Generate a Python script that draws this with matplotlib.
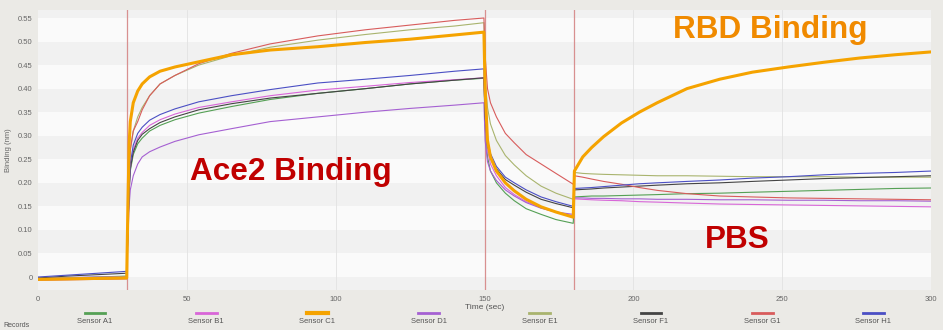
import numpy as np
import matplotlib.pyplot as plt
from matplotlib.lines import Line2D

# tempo (s) comum a todos os sensores
t = [0, 10, 20, 29.8, 30.2, 30.6, 31, 32, 33.5, 35, 37.5, 41, 46, 54, 65, 78, 94, 110, 125, 140,
     149.8, 150.2, 151, 152, 154, 157, 160, 164, 169, 174, 179.8, 180.2, 183, 186, 190, 196, 202,
     208, 218, 229, 240, 252, 264, 276, 288, 300]

sensor_a1 = [-0.004, -0.002, 0.0, 0.002, 0.1, 0.18, 0.225, 0.26, 0.283, 0.295, 0.31, 0.322, 0.334, 0.348,
             0.362, 0.377, 0.39, 0.4, 0.41, 0.418, 0.422, 0.32, 0.255, 0.225, 0.2, 0.178, 0.162, 0.145,
             0.133, 0.122, 0.114, 0.17, 0.171, 0.172, 0.172, 0.173, 0.174, 0.175, 0.177, 0.178, 0.18,
             0.182, 0.184, 0.186, 0.188, 0.189]
sensor_b1 = [-0.005, -0.003, -0.002, 0.0, 0.1, 0.18, 0.23, 0.27, 0.295, 0.307, 0.322, 0.334, 0.346, 0.36,
             0.372, 0.385, 0.397, 0.405, 0.413, 0.419, 0.423, 0.33, 0.27, 0.24, 0.215, 0.19, 0.175, 0.16,
             0.147, 0.138, 0.13, 0.166, 0.165, 0.164, 0.163, 0.162, 0.16, 0.159, 0.157, 0.155, 0.154,
             0.153, 0.152, 0.151, 0.15, 0.149]
sensor_c1 = [-0.005, -0.004, -0.003, -0.002, 0.15, 0.28, 0.33, 0.37, 0.395, 0.41, 0.425, 0.437, 0.446, 0.457,
             0.472, 0.482, 0.489, 0.498, 0.505, 0.514, 0.52, 0.4, 0.29, 0.255, 0.225, 0.2, 0.183, 0.165,
             0.149, 0.138, 0.127, 0.225, 0.255, 0.275, 0.298, 0.327, 0.35, 0.37, 0.4, 0.42, 0.435,
             0.446, 0.456, 0.465, 0.472, 0.478]
sensor_d1 = [-0.003, -0.001, 0.0, 0.001, 0.08, 0.15, 0.185, 0.215, 0.24, 0.255, 0.266, 0.276, 0.288, 0.302,
             0.315, 0.33, 0.34, 0.35, 0.358, 0.365, 0.37, 0.29, 0.245, 0.225, 0.205, 0.185, 0.172, 0.158,
             0.146, 0.138, 0.133, 0.168, 0.168, 0.167, 0.167, 0.166, 0.166, 0.165, 0.165, 0.164, 0.164,
             0.163, 0.163, 0.162, 0.162, 0.161]
sensor_e1 = [-0.003, -0.002, -0.001, 0.0, 0.12, 0.22, 0.27, 0.31, 0.34, 0.36, 0.385, 0.41, 0.428, 0.45,
             0.47, 0.488, 0.503, 0.515, 0.525, 0.533, 0.54, 0.42, 0.36, 0.325, 0.29, 0.258, 0.238, 0.215,
             0.193, 0.178, 0.165, 0.222, 0.22, 0.219, 0.218, 0.217, 0.216, 0.215, 0.215, 0.214, 0.213,
             0.213, 0.213, 0.212, 0.212, 0.212]
sensor_f1 = [-0.002, 0.002, 0.005, 0.008, 0.1, 0.18, 0.23, 0.265, 0.29, 0.303, 0.315, 0.328, 0.34, 0.355,
             0.368, 0.38, 0.39, 0.4, 0.41, 0.418, 0.423, 0.34, 0.28, 0.255, 0.23, 0.207, 0.195, 0.18,
             0.165, 0.156, 0.147, 0.185, 0.186, 0.187, 0.189, 0.191, 0.193, 0.195, 0.198, 0.2, 0.203,
             0.206, 0.209, 0.211, 0.213, 0.215]
sensor_g1 = [-0.007, -0.006, -0.005, -0.004, 0.12, 0.22, 0.27, 0.31, 0.33, 0.355, 0.385, 0.41, 0.428, 0.453,
             0.475, 0.495, 0.512, 0.525, 0.535, 0.545, 0.55, 0.47, 0.4, 0.37, 0.34, 0.305, 0.285, 0.26,
             0.24, 0.22, 0.197, 0.215, 0.212, 0.208, 0.203, 0.197, 0.19, 0.184, 0.177, 0.172, 0.17,
             0.168, 0.167, 0.166, 0.165, 0.164]
sensor_h1 = [0.0, 0.004, 0.008, 0.012, 0.1, 0.19, 0.24, 0.28, 0.305, 0.318, 0.333, 0.345, 0.357, 0.372,
             0.385, 0.398, 0.412, 0.42, 0.428, 0.437, 0.442, 0.36, 0.29, 0.262, 0.235, 0.212, 0.2, 0.185,
             0.17, 0.16, 0.15, 0.188, 0.189, 0.19, 0.192, 0.195, 0.198, 0.2, 0.203, 0.206, 0.21,
             0.213, 0.217, 0.22, 0.222, 0.225]

nomes = ["Sensor A1", "Sensor B1", "Sensor C1", "Sensor D1",
         "Sensor E1", "Sensor F1", "Sensor G1", "Sensor H1"]
series = [sensor_a1, sensor_b1, sensor_c1, sensor_d1, sensor_e1, sensor_f1, sensor_g1, sensor_h1]
cores = ["#55a055", "#d866d8", "#f5a300", "#a560d2", "#a9b46e", "#444444", "#d85c5c", "#4b4fc4"]

# instantes das trocas de etapa
etapas = [30, 150, 180]

plt.rcParams['font.family'] = ['Liberation Sans', 'DejaVu Sans']

fig = plt.figure(figsize=(9.43, 3.30), dpi=100, facecolor="#ebeae6")
ax = fig.add_axes([0.0403, 0.1212, 0.947, 0.8485])
ax.set_facecolor("#fafafa")

# faixas alternadas do fundo
yt = np.arange(0, 0.56, 0.05)
for i, y0 in enumerate(np.arange(-0.05, 0.6, 0.05)):
    if i % 2 == 0:
        ax.axhspan(y0, y0 + 0.05, color="#f1f1f1", lw=0, zorder=0)
for x in [50, 100, 150, 200, 250]:
    ax.axvline(x, color="#e2e2e2", lw=0.6, zorder=0.5)

for x in etapas:
    ax.axvline(x, color="#d89090", lw=0.9, zorder=1)

for i, (s, c) in enumerate(zip(series, cores)):
    if nomes[i] == "Sensor C1":
        ax.plot(t, s, color=c, lw=2.2, zorder=3)
    else:
        ax.plot(t, s, color=c, lw=0.8, zorder=2)

ax.set_xlim(0, 300)
ax.set_ylim(-0.0276, 0.567)
ax.set_xticks([0, 50, 100, 150, 200, 250, 300])
ax.set_yticks(yt)
ax.set_yticklabels(["0"] + [f"{v:.2f}" for v in yt[1:]])
ax.tick_params(labelsize=5.5, colors="#666666", length=0, pad=4)
for sp in ax.spines.values():
    sp.set_visible(False)
ax.set_xlabel("Time (sec)", fontsize=6, color="#555555", labelpad=1)
ax.set_ylabel("Binding (nm)", fontsize=5.5, color="#666666", labelpad=4)

# anotações
ax.text(85, 0.223, "Ace2 Binding", color="#c00000", fontsize=22.7, fontweight="bold",
        ha="center", va="center", zorder=5)
ax.text(246, 0.525, "RBD Binding", color="#f08a00", fontsize=22.7, fontweight="bold",
        ha="center", va="center", zorder=5)
ax.text(235, 0.079, "PBS", color="#c00000", fontsize=22.7, fontweight="bold",
        ha="center", va="center", zorder=5)

# legenda com o texto abaixo da linha
for i, (n, c) in enumerate(zip(nomes, cores)):
    cx = (95 + i * 111.2) / 943
    fig.add_artist(Line2D([cx - 0.011, cx + 0.011], [0.052, 0.052], color=c,
                          lw=3 if n == "Sensor C1" else 2, transform=fig.transFigure))
    fig.text(cx, 0.025, n, fontsize=5.5, color="#555555", ha="center", va="center")

fig.text(0.004, 0.004, "Records", fontsize=5, color="#555555", ha="left", va="bottom")

fig.savefig("out.png", dpi=100, facecolor=fig.get_facecolor())
